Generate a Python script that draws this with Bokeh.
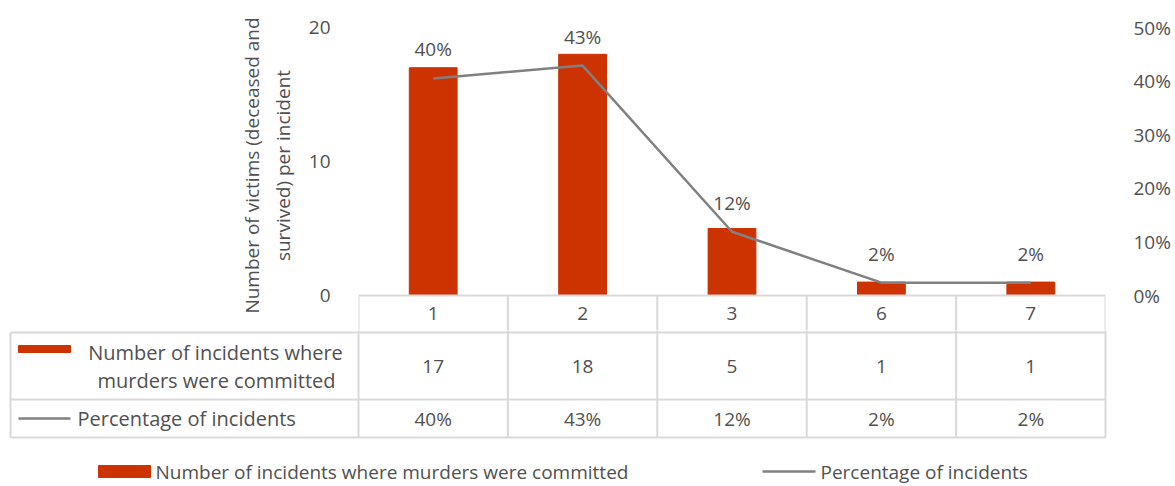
from bokeh.plotting import figure
from bokeh.models import (ColumnDataSource, LinearAxis, Range1d, FactorRange,
                          FixedTicker, NumeralTickFormatter, LabelSet)
from bokeh.core.properties import value
from bokeh.embed import file_html
from bokeh.resources import INLINE

# ---------------- data ----------------
categories = ["1", "2", "3", "6", "7"]
incidents = [17, 18, 5, 1, 1]
pct_values = [0.405, 0.429, 0.119, 0.024, 0.024]
pct_labels = ["40%", "43%", "12%", "2%", "2%"]
left_ticks = [0, 10, 20]
right_ticks = [0, 0.1, 0.2, 0.3, 0.4, 0.5]
series_bar = "Number of incidents where murders were committed"
series_bar_lines = ["Number of incidents where", "murders were committed"]
series_line = "Percentage of incidents"
y_title = "Number of victims (deceased and\nsurvived) per incident"

# ---------------- style ----------------
FONT = "Open Sans"
BAR = "#CC3300"
LINE = "#808080"
TXT = "#505050"
GRID = "#D9D9D9"
FS_NUM = "19px"
FS_TXT = "20px"

TOTAL_W = 1167
FRAME_L = 358
FRAME_W = 747
TOP_PAD = 27            # empty space above the 20 / 50% gridline (inside frame)
PLOT_H = 268            # height of the 0..20 value area
HEAD_H = 35             # header row of the data table (inside first figure)
COL_W = FRAME_W / len(categories)
PX_PER_UNIT = PLOT_H / 20.0
PX_PER_PCT = PLOT_H / 0.5

src = ColumnDataSource(dict(cat=categories, n=incidents, pct=pct_values, lab=pct_labels))

y_low = -HEAD_H / PX_PER_UNIT
y_high = 20 + TOP_PAD / PX_PER_UNIT
p = figure(x_range=FactorRange(*categories), y_range=Range1d(y_low, y_high),
           frame_width=FRAME_W, frame_height=TOP_PAD + PLOT_H + HEAD_H,
           min_border_left=FRAME_L, min_border_top=0, min_border_bottom=0,
           min_border_right=TOTAL_W - FRAME_L - FRAME_W,
           x_axis_location=None, y_axis_location="left",
           output_backend="svg", toolbar_location=None)
p.outline_line_color = None
p.grid.visible = False

p.extra_y_ranges = {"pct": Range1d(-HEAD_H / PX_PER_PCT, 0.5 + TOP_PAD / PX_PER_PCT)}

p.vbar(x="cat", top="n", width=0.32, source=src, color=BAR)
p.line(x="cat", y="pct", source=src, y_range_name="pct", color=LINE, line_width=2.5)

labels = LabelSet(x="cat", y="pct", text="lab", source=src, y_range_name="pct",
                  text_align="center", text_baseline="bottom", y_offset=16,
                  text_font=value(FONT), text_font_size=FS_NUM, text_color=TXT)
p.add_layout(labels)

ya = p.yaxis[0]
ya.ticker = FixedTicker(ticks=left_ticks)
ya.bounds = (0, 20)
ya.axis_label = y_title

ra = LinearAxis(y_range_name="pct", ticker=FixedTicker(ticks=right_ticks),
                formatter=NumeralTickFormatter(format="0%"), bounds=(0, 0.5))
p.add_layout(ra, "right")

for ax in [ya, ra]:
    ax.axis_line_color = None
    ax.major_tick_line_color = None
    ax.minor_tick_line_color = None
    ax.major_label_standoff = 22
    ax.major_label_text_font = FONT
    ax.major_label_text_font_size = FS_NUM
    ax.major_label_text_color = TXT
ya.axis_label_text_font = FONT
ya.axis_label_text_font_size = FS_NUM
ya.axis_label_text_font_style = "normal"
ya.axis_label_text_color = TXT
ya.axis_label_standoff = 10

# header row of the table (category labels)
n = len(categories)
bounds_x = list(range(n + 1))
p.segment(x0=[0], y0=[0], x1=[n], y1=[0], color=GRID, line_width=2)
p.segment(x0=bounds_x, y0=[0] * (n + 1), x1=bounds_x, y1=[y_low] * (n + 1),
          color=GRID, line_width=2)
p.text(x=categories, y=[y_low / 2] * n, text=categories,
       text_font=value(FONT), text_font_size=FS_NUM, text_color=TXT,
       text_align="center", text_baseline="middle")

# ---------------- rest of data table + legend ----------------
TOP2 = TOP_PAD + PLOT_H + HEAD_H
H2 = 486 - TOP2
x_start = -FRAME_L / COL_W
q = figure(x_range=Range1d(x_start, x_start + TOTAL_W / COL_W),
           y_range=Range1d(H2, 0),
           frame_width=TOTAL_W, frame_height=H2,
           min_border=0, min_border_left=0, min_border_right=0,
           min_border_top=0, min_border_bottom=0,
           x_axis_location=None, y_axis_location=None,
           output_backend="svg", toolbar_location=None)
q.outline_line_color = None
q.grid.visible = False


def px(xpage):
    # page pixel -> table x units
    return (xpage - FRAME_L) / COL_W


def py(ypage):
    return ypage - TOP2


r1, r2, r3 = py(332), py(399), py(437)
tl = px(10)
hy = [r1, r2, r3]
q.segment(x0=[tl] * 3, y0=hy, x1=[n] * 3, y1=hy, color=GRID, line_width=2)
vx = [tl] + bounds_x
vy0 = [r1] + [py(TOP2 - 2)] * (n + 1)
q.segment(x0=vx, y0=vy0, x1=vx, y1=[r3] * (n + 2), color=GRID, line_width=2)

idx = [i + 0.5 for i in range(n)]
tsrc = ColumnDataSource(dict(x=idx, n=[str(v) for v in incidents], lab=pct_labels))
common = dict(text_font=value(FONT), text_font_size=FS_NUM, text_color=TXT,
              text_align="center", text_baseline="middle")
q.text(x="x", y=(r1 + r2) / 2, text="n", source=tsrc, **common)
q.text(x="x", y=(r2 + r3) / 2, text="lab", source=tsrc, **common)

# row headers
q.quad(left=px(18), right=px(70), top=py(345), bottom=py(352), color=BAR)
q.text(x=[px(215), px(216)], y=[py(352), py(380)], text=series_bar_lines,
       text_font=value(FONT), text_font_size=FS_TXT, text_color=TXT,
       text_align="center", text_baseline="middle")
q.segment(x0=px(18), y0=(r2 + r3) / 2, x1=px(70), y1=(r2 + r3) / 2, color=LINE, line_width=2.5)
q.text(x=px(77), y=(r2 + r3) / 2, text=[series_line],
       text_font=value(FONT), text_font_size=FS_TXT, text_color=TXT,
       text_align="left", text_baseline="middle")

# bottom legend
ly = py(471)
q.quad(left=px(98), right=px(150), top=ly - 6, bottom=ly + 6, color=BAR)
q.text(x=px(155), y=ly, text=[series_bar], text_font=value(FONT), text_font_size=FS_NUM,
       text_color=TXT, text_align="left", text_baseline="middle")
q.segment(x0=px(762), y0=ly, x1=px(815), y1=ly, color=LINE, line_width=2.5)
q.text(x=px(820), y=ly, text=[series_line], text_font=value(FONT), text_font_size=FS_NUM,
       text_color=TXT, text_align="left", text_baseline="middle")

open("out.html", "w").write(file_html([p, q], INLINE))
